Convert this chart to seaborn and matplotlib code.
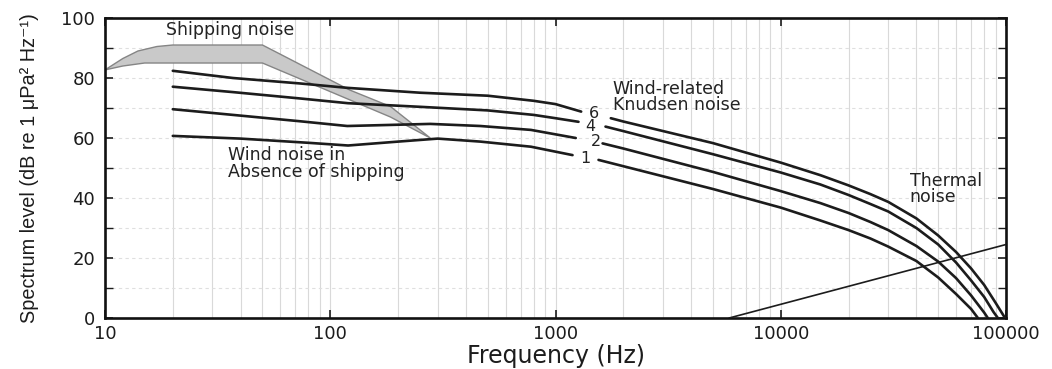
import numpy as np
import pandas as pd
import matplotlib
matplotlib.use("Agg")
import matplotlib.pyplot as plt
import seaborn as sns

# Wind-related (Knudsen) noise curves, one per wind speed label
wind_labels = ["1", "2", "4", "6"]

f_w1 = [20, 40, 80, 120, 200, 300, 464, 778, 1190, 1552, 2000, 5000, 10000,
        15000, 20000, 25000, 30000, 40000, 50000, 60000, 70000, 75000]
l_w1 = [60.7, 59.8, 58.4, 57.5, 58.8, 59.8, 58.8, 57.1, 54.3, 52.7, 50.6, 43.0,
        36.8, 32.5, 29.3, 26.5, 23.8, 19.0, 13.5, 8.0, 3.0, 0.0]

f_w2 = [20, 37, 73, 119, 278, 464, 778, 1230, 1618, 2000, 5000, 10000, 15000,
        20000, 25000, 30000, 40000, 50000, 60000, 70000, 80000, 83000]
l_w2 = [69.6, 67.7, 65.6, 64.0, 64.7, 64.0, 62.7, 60.0, 58.2, 56.5, 48.7, 42.3,
        38.3, 35.0, 32.0, 29.3, 24.0, 18.8, 13.3, 7.5, 1.8, 0.0]

f_w4 = [20, 37, 73, 120, 250, 500, 800, 1000, 1265, 1667, 2000, 5000, 10000,
        15000, 20000, 25000, 30000, 40000, 50000, 60000, 70000, 80000, 88000,
        92000]
l_w4 = [77.1, 75.3, 73.2, 71.6, 70.4, 69.2, 67.7, 66.6, 65.4, 63.8, 62.3, 54.6,
        48.5, 44.5, 41.0, 38.0, 35.5, 30.0, 24.5, 18.5, 12.5, 7.0, 2.0, 0.0]

f_w6 = [20, 37, 73, 120, 250, 500, 800, 1000, 1300, 1760, 2000, 5000, 10000,
        15000, 20000, 25000, 30000, 40000, 50000, 60000, 70000, 80000, 90000,
        99000]
l_w6 = [82.4, 80.0, 78.2, 76.7, 75.1, 74.1, 72.4, 71.3, 68.8, 66.6, 65.5, 58.3,
        51.8, 47.6, 44.2, 41.3, 38.7, 33.2, 27.5, 22.0, 16.5, 11.0, 5.0, 0.0]

# Each curve is broken around its wind-speed number: (last freq before, first after)
gap_freq = [(1190, 1552), (1230, 1618), (1265, 1667), (1300, 1760)]

# Where each wind-speed number sits
lab_freq = [1360, 1506, 1431, 1480]
lab_level = [53.3, 58.7, 64.0, 68.3]

# Shipping noise band (upper and lower edges)
ship_up_f = [10, 12, 14, 17, 20, 50, 122, 185, 278]
ship_up_l = [82.7, 86.5, 89.0, 90.5, 91.0, 91.0, 76.0, 70.5, 60.0]
ship_lo_f = [10, 12, 15, 50, 185, 278]
ship_lo_l = [82.7, 84.0, 85.0, 85.0, 67.0, 60.0]

# Thermal noise
therm_f = [5900, 100000]
therm_l = [0.0, 24.5]

x_ticks = [10, 100, 1000, 10000, 100000]
x_tick_labels = ["10", "100", "1000", "10000", "100000"]
y_ticks = [0, 20, 40, 60, 80, 100]

sns.set_theme(style="white")
plt.rcParams["font.family"] = ["DejaVu Sans"]

ink = "#1c1c1c"
txt = "#232323"

fig = plt.figure(figsize=(10.52, 3.69), dpi=100)
ax = fig.add_axes([0.0998, 0.1382, 0.8565, 0.8130])
ax.set_xscale("log")

# shipping band
ax.fill(np.concatenate([ship_up_f, ship_lo_f[::-1]]),
        np.concatenate([ship_up_l, ship_lo_l[::-1]]),
        facecolor="#c9c9c9", edgecolor="#858585", lw=1.0, zorder=2)

frames = []
for lab, f, l, (g0, g1) in zip(wind_labels, [f_w1, f_w2, f_w4, f_w6],
                               [l_w1, l_w2, l_w4, l_w6], gap_freq):
    d = pd.DataFrame({"freq": f, "level": l, "wind": lab})
    d["part"] = np.where(d["freq"] <= g0, "low", "high")
    frames.append(d)
wind_df = pd.concat(frames, ignore_index=True)
wind_df["segment"] = wind_df["wind"] + "-" + wind_df["part"]

sns.lineplot(data=wind_df, x="freq", y="level", units="segment",
             estimator=None, sort=False, color=ink, lw=1.9, ax=ax, zorder=3)

therm_df = pd.DataFrame({"freq": therm_f, "level": therm_l})
sns.lineplot(data=therm_df, x="freq", y="level", color=ink, lw=1.2, ax=ax,
             zorder=3)

for lab, fx, ly in zip(wind_labels, lab_freq, lab_level):
    ax.text(fx, ly, lab, ha="center", va="center", fontsize=11.5, color=txt,
            zorder=5)

note_size = 12.5
ax.text(36, 96, "Shipping noise", ha="center", va="center",
        fontsize=note_size, color=txt)
ax.text(35.2, 51.5, "Wind noise in\nAbsence of shipping", ha="left",
        va="center", fontsize=note_size, color=txt, linespacing=0.88)
ax.text(1791, 73.7, "Wind-related\nKnudsen noise", ha="left", va="center",
        fontsize=note_size, color=txt, linespacing=0.88)
ax.text(37400, 43, "Thermal\nnoise", ha="left", va="center",
        fontsize=note_size, color=txt, linespacing=0.88)

ax.set_xlim(10, 100000)
ax.set_ylim(0, 100)
ax.set_xticks(x_ticks)
ax.set_xticklabels(x_tick_labels)
ax.xaxis.set_minor_locator(matplotlib.ticker.LogLocator(base=10,
                                                        subs=np.arange(2, 10)))
ax.xaxis.set_minor_formatter(matplotlib.ticker.NullFormatter())
ax.set_yticks(y_ticks)
ax.set_yticks(np.arange(10, 100, 20), minor=True)

ax.grid(True, which="both", axis="x", color="#d9d9d9", lw=0.8)
ax.grid(True, which="both", axis="y", color="#dfdfdf", lw=0.8,
        ls=(0, (3, 3)))

ax.tick_params(which="major", direction="in", length=6, width=1.2,
               top=True, right=True, bottom=True, left=True,
               labelsize=13, colors=ink)
ax.tick_params(which="major", axis="x", pad=5)
ax.tick_params(which="major", axis="y", pad=7)
ax.tick_params(which="minor", axis="y", direction="in", length=6, width=1.0,
               left=True, right=True, color=ink)
ax.tick_params(which="minor", axis="x", length=0)

for sp in ax.spines.values():
    sp.set_visible(True)
    sp.set_color("#111111")
    sp.set_linewidth(1.9)

ax.set_xlabel("Frequency (Hz)", fontsize=17, color=ink)
ax.xaxis.set_label_coords(0.5, -0.085)
ax.set_ylabel("Spectrum level (dB re 1 μPa² Hz⁻¹)", fontsize=14.3, color=ink,
              family=["Liberation Sans", "DejaVu Sans"])
ax.yaxis.set_label_coords(-0.073, 0.5)

fig.savefig("out.png", dpi=100, facecolor="white")
